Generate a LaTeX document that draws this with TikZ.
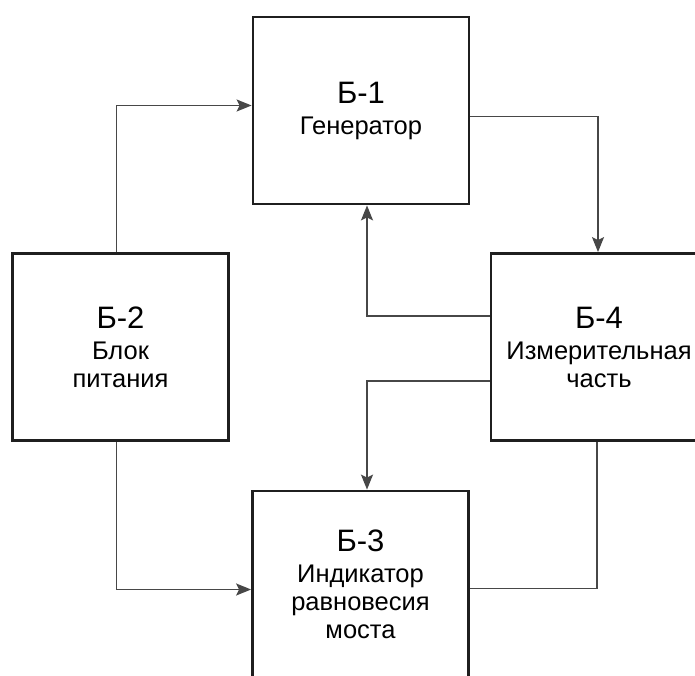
\documentclass[tikz,border=0pt]{standalone}
\usepackage{fontspec}
\setmainfont{Liberation Sans}
\usetikzlibrary{arrows.meta}

\begin{document}
\begin{tikzpicture}[x=1pt, y=1pt,
    blok/.style={draw=black!88, line width=2.8pt, minimum width=216pt,
        minimum height=187pt, align=center, inner sep=0pt,
        font=\fontsize{25.5}{28}\selectfont},
    svyaz/.style={draw=black!72, line width=1.7pt},
    strelka/.style={svyaz, -{Stealth[length=15pt, width=12pt, inset=3pt]}}]

    % frame of the picture (right and bottom blocks are cut off)
    \clip (0,0) rectangle (695,675);

    % ================= BLOCKS =================
    \node[blok] (b1) at (361,564.5) {{\fontsize{31}{30}\selectfont Б-1}\\[3pt] Генератор};
    \node[blok] (b2) at (120.5,328) {{\fontsize{31}{30}\selectfont Б-2}\\[3pt] Блок\\ питания};
    \node[blok] (b3) at (360.5,90.5) {{\fontsize{31}{30}\selectfont Б-3}\\[3pt] Индикатор\\ равновесия\\ моста};
    \node[blok] (b4) at (599,328) {{\fontsize{31}{30}\selectfont Б-4}\\[3pt] Измерительная\\ часть};

    % ================= CONNECTIONS =================
    % power supply -> generator and indicator
    \draw[strelka] ([xshift=-4pt]b2.north) |- ([yshift=5pt]b1.west);
    \draw[strelka] ([xshift=-4pt]b2.south) |- ([yshift=-5pt]b3.west);

    % generator -> measuring part
    \draw[strelka] ([yshift=-6pt]b1.east) -| ([xshift=-1pt]b4.north);

    % measuring part -> generator, indicator
    \draw[strelka] ([yshift=31pt]b4.west) -| ([xshift=6pt]b1.south);
    \draw[strelka] ([yshift=-34pt]b4.west) -| ([xshift=6.5pt]b3.north);

    % indicator -> measuring part (no arrow)
    \draw[svyaz] ([yshift=-4pt]b3.east) -| ([xshift=-2pt]b4.south);

\end{tikzpicture}
\end{document}
